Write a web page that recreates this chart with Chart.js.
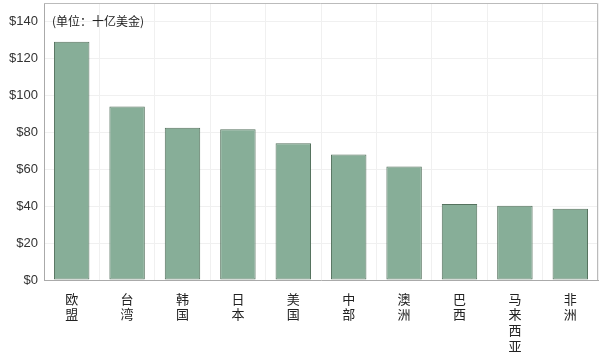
<!DOCTYPE html>
<html>
<head>
<meta charset="utf-8">
<script src="https://cdn.jsdelivr.net/npm/chart.js@4.4.1/dist/chart.umd.min.js"></script>
<style>
  html, body { margin: 0; padding: 0; background: #fff; }
  #wrap { width: 600px; height: 354px; position: relative; }
</style>
</head>
<body>
<div id="wrap"><canvas id="c"></canvas></div>
<script>
  "use strict";

  // 地区（每个字单独一行）
  var REGIONS = [["欧", "盟"], ["台", "湾"], ["韩", "国"], ["日", "本"], ["美", "国"],
    ["中", "部"], ["澳", "洲"], ["巴", "西"], ["马", "来", "西", "亚"], ["非", "洲"]];
  var VALUES = [129, 94, 82.5, 81.7, 74, 68, 61.5, 41.2, 40.2, 38.6];
  var Y_TICKS = [0, 20, 40, 60, 80, 100, 120, 140];
  var UNIT_NOTE = "(单位：十亿美金)";

  var FONT = "'Noto Sans CJK SC', 'Liberation Sans', sans-serif";

  var notePlugin = {
    id: "unitNote",
    afterDraw: function (chart) {
      var ctx = chart.ctx;
      var a = chart.chartArea;
      ctx.save();
      ctx.font = "12px " + FONT;
      ctx.fillStyle = "#222";
      ctx.textBaseline = "middle";
      ctx.fillText(UNIT_NOTE, a.left + 8, chart.scales.y.getPixelForValue(140));
      ctx.restore();
    }
  };

  new Chart(document.getElementById("c"), {
    type: "bar",
    data: {
      labels: REGIONS,
      datasets: [{
        data: VALUES,
        backgroundColor: "#87ae98",
        borderColor: "#55725e",
        borderWidth: 1,
        borderSkipped: false,
        categoryPercentage: 1,
        barPercentage: 0.64
      }]
    },
    options: {
      responsive: true,
      maintainAspectRatio: false,
      animation: false,
      layout: { padding: { top: 3, right: 2, left: 0, bottom: 0 } },
      plugins: { legend: { display: false }, tooltip: { enabled: false } },
      scales: {
        x: {
          grid: { color: "#f0f0f0", offset: true, drawTicks: false },
          border: { color: "#aaa" },
          afterFit: function (scale) { scale.height = 74; },
          ticks: { color: "#222", padding: 11, font: { family: FONT, size: 13, lineHeight: 1.2 }, maxRotation: 0 }
        },
        y: {
          min: 0,
          max: 150,
          afterBuildTicks: function (scale) {
            scale.ticks = Y_TICKS.map(function (v) { return { value: v }; });
          },
          afterFit: function (scale) {
            scale.width = 44;
            scale.paddingTop = 0;
          },
          grid: { color: "#f0f0f0", drawTicks: false },
          border: { color: "#aaa" },
          ticks: {
            color: "#333",
            padding: 6,
            font: { family: "'Liberation Sans', sans-serif", size: 13 },
            callback: function (v) { return "$" + v; }
          }
        }
      }
    },
    plugins: [notePlugin, {
      id: "frame",
      afterDraw: function (chart) {
        var a = chart.chartArea, ctx = chart.ctx;
        ctx.save();
        ctx.strokeStyle = "#bbb";
        ctx.lineWidth = 1;
        ctx.beginPath();
        ctx.moveTo(a.left, a.top + 0.5);
        ctx.lineTo(a.right - 0.5, a.top + 0.5);
        ctx.lineTo(a.right - 0.5, a.bottom);
        ctx.stroke();
        ctx.restore();
      }
    }]
  });
</script>
</body>
</html>
